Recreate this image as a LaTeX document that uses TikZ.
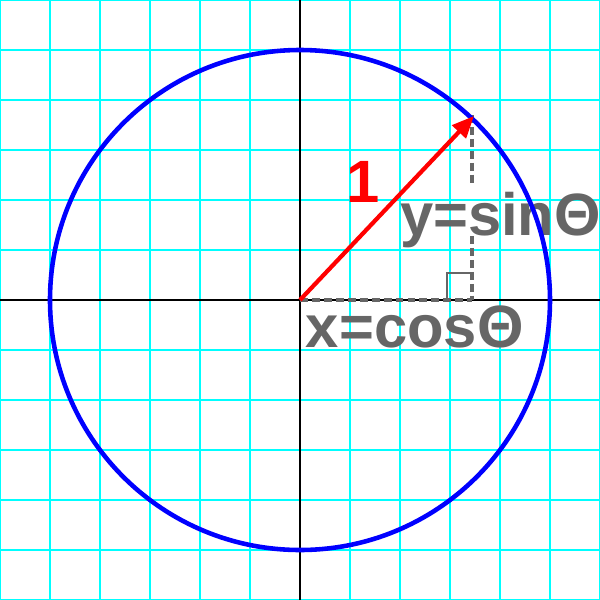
\documentclass[tikz,border=0pt]{standalone}
\usepackage{fontspec}
\setmainfont{Liberation Sans}
\usetikzlibrary{arrows.meta}
\definecolor{gridcyan}{RGB}{0,255,255}
\definecolor{labgray}{RGB}{102,102,102}
\definecolor{circblue}{RGB}{0,0,255}
\definecolor{vecred}{RGB}{255,0,0}
\tikzset{
  gridline/.style={draw=gridcyan, line width=1pt},
  axisline/.style={draw=black, line width=1.45pt},
  projdash/.style={draw=labgray, line width=2.3pt, dash pattern=on 4.5pt off 2.3pt},
  rightmark/.style={draw=labgray, line width=1.3pt},
  biglabel/.style={font=\fontsize{34}{35}\selectfont\bfseries, inner sep=0pt, outer sep=0pt},
  unitcirc/.style={draw=circblue, line width=2.6pt},
  radius vector/.style={draw=vecred, line width=2.4pt, -{Triangle[length=12.5pt, width=10.5pt]}}
}
\begin{document}
\begin{tikzpicture}[x=0.02cm, y=-0.02cm]
\useasboundingbox (0,0) rectangle (600,600);
\clip (0,0) rectangle (600,600);
\fill[white] (0,0) rectangle (600,600);
% grid
\foreach \g in {0,50,...,600} {
  \draw[gridline] (\g,0) -- (\g,600);
  \draw[gridline] (0,\g) -- (600,\g);
}
% axes
\coordinate (L) at (0,300);
\coordinate (R) at (600,300);
\coordinate (T) at (300,0);
\coordinate (B) at (300,600);
\draw[axisline] (L) -- (R);
\draw[axisline] (T) -- (B);
% key points
\coordinate (O) at (300,300);
\coordinate (Ptop) at (472,115);
\coordinate (F) at (472,300);
\coordinate (G1) at (472,184);
\coordinate (G2) at (472,236);
\coordinate (S1) at (447,300);
\coordinate (S2) at (447,273);
\coordinate (S3) at (472,273);
\coordinate (Tip) at (474,116);
% projections
\draw[projdash] (O) -- (F);
\draw[projdash] (Ptop) -- (G1);
\draw[projdash] (G2) -- (F);
\draw[rightmark] (S1) -- (S2) -- (S3);
% labels
\node[biglabel, text=labgray, anchor=base west] (ysin) at (400,235) {y=sin\symbol{"0398}};
\node[biglabel, text=labgray, anchor=base west] (xcos) at (306,347) {x=cos\symbol{"0398}};
\node[biglabel, text=vecred, anchor=base] (one) at (363,202) {1};
% circle
\node[unitcirc, circle, minimum size=500*0.02cm, inner sep=0pt] (circ) at (O) {};
% radius vector
\draw[radius vector] (O) -- (Tip);
\end{tikzpicture}
\end{document}
